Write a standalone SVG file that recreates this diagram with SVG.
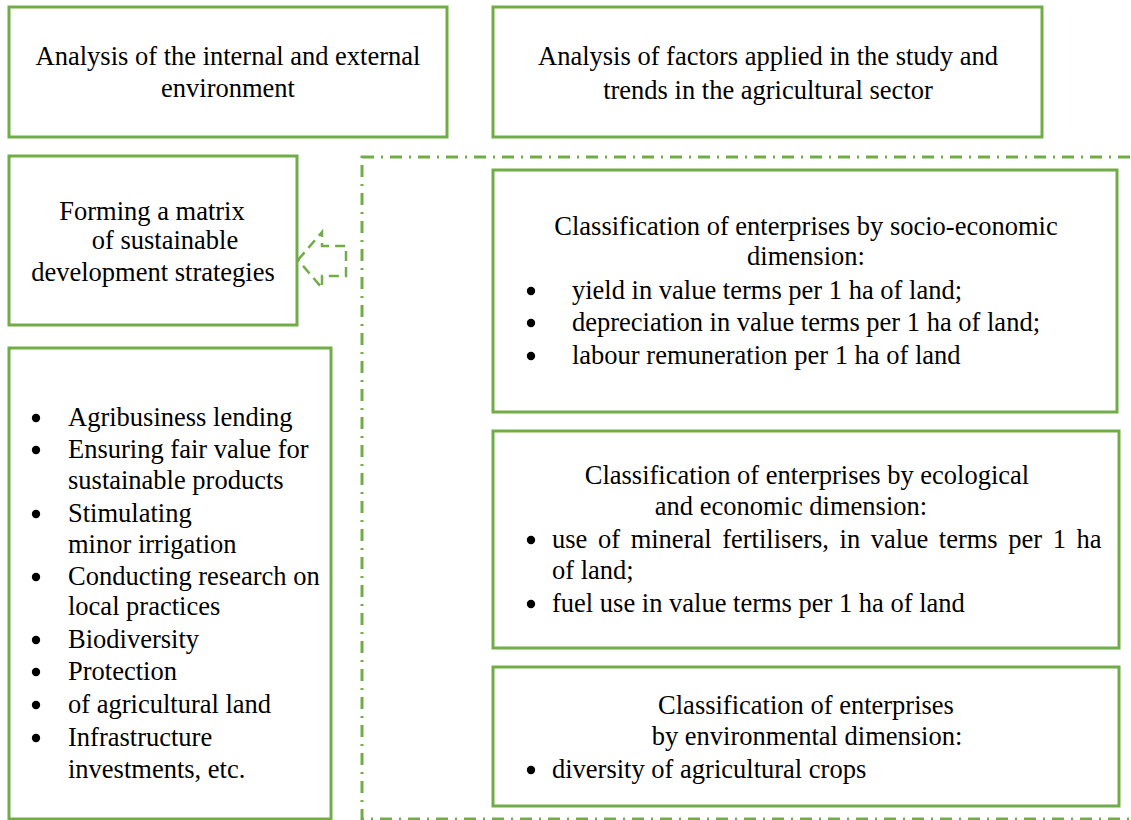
<svg xmlns="http://www.w3.org/2000/svg" width="1131" height="820" viewBox="0 0 1131 820">
<style>
.box{fill:#fff;stroke:#70AD47;stroke-width:3}
.t{font-size:26.5px;fill:#000}
.c{text-anchor:middle}
.b{fill:#000}
.frame{fill:none;stroke:#70AD47;stroke-width:3;stroke-dasharray:12 7 2 7}
.arrow{fill:none;stroke:#70AD47;stroke-width:2.5;stroke-dasharray:10 6}
</style>
<rect width="1131" height="820" fill="#fff"/>
<g id="frame"><rect class="frame" x="362" y="157" width="790" height="662"/></g>
<g font-family="Liberation Serif, DejaVu Serif, serif">
<g id="n1"><rect class="box" x="9" y="7" width="438" height="130"/>
<text class="t c" x="228" y="65">Analysis of the internal and external</text>
<text class="t c" x="228" y="97">environment</text></g>
<g id="n2"><rect class="box" x="493" y="7" width="549" height="130"/>
<text class="t c" x="768" y="65">Analysis of factors applied in the study and</text>
<text class="t c" x="768" y="99">trends in the agricultural sector</text></g>
<g id="n3"><rect class="box" x="9" y="156" width="288" height="169"/>
<text class="t c" x="152" y="220">Forming a matrix</text>
<text class="t c" x="165" y="249">of sustainable</text>
<text class="t c" x="153" y="281">development strategies</text></g>
<g id="n4"><rect class="box" x="9" y="348" width="322" height="471"/>
<g class="b"><circle cx="36" cy="418" r="4.2"/><circle cx="36" cy="450" r="4.2"/><circle cx="36" cy="514" r="4.2"/><circle cx="36" cy="577" r="4.2"/><circle cx="36" cy="640" r="4.2"/><circle cx="36" cy="672" r="4.2"/><circle cx="36" cy="705" r="4.2"/><circle cx="36" cy="738" r="4.2"/></g>
<text class="t" x="68" y="426">Agribusiness lending</text>
<text class="t" x="68" y="458">Ensuring fair value for</text>
<text class="t" x="68" y="489">sustainable products</text>
<text class="t" x="68" y="522">Stimulating</text>
<text class="t" x="68" y="553">minor irrigation</text>
<text class="t" x="68" y="585">Conducting research on</text>
<text class="t" x="68" y="615">local practices</text>
<text class="t" x="68" y="648">Biodiversity</text>
<text class="t" x="68" y="680">Protection</text>
<text class="t" x="68" y="713">of agricultural land</text>
<text class="t" x="68" y="746">Infrastructure</text>
<text class="t" x="68" y="778">investments, etc.</text></g>
<g id="n5"><rect class="box" x="493" y="170" width="624" height="242"/>
<text class="t c" x="806" y="235">Classification of enterprises by socio-economic</text>
<text class="t c" x="806" y="265">dimension:</text>
<g class="b"><circle cx="531" cy="291" r="4.2"/><circle cx="531" cy="323" r="4.2"/><circle cx="531" cy="356" r="4.2"/></g>
<text class="t" x="572" y="299">yield in value terms per 1 ha of land;</text>
<text class="t" x="572" y="331">depreciation in value terms per 1 ha of land;</text>
<text class="t" x="572" y="364">labour remuneration per 1 ha of land</text></g>
<g id="n6"><rect class="box" x="493" y="431" width="626" height="217"/>
<text class="t c" x="807" y="484">Classification of enterprises by ecological</text>
<text class="t c" x="791" y="515">and economic dimension:</text>
<g class="b"><circle cx="531" cy="540" r="4.2"/><circle cx="531" cy="604" r="4.2"/></g>
<text class="t" x="552" y="548" word-spacing="4">use of mineral fertilisers, in value terms per 1 ha</text>
<text class="t" x="552" y="579">of land;</text>
<text class="t" x="552" y="612">fuel use in value terms per 1 ha of land</text></g>
<g id="n7"><rect class="box" x="493" y="667" width="626" height="139"/>
<text class="t c" x="806" y="714">Classification of enterprises</text>
<text class="t c" x="807" y="745">by environmental dimension:</text>
<circle class="b" cx="531" cy="770" r="4.2"/>
<text class="t" x="552" y="778">diversity of agricultural crops</text></g>
</g>
<g id="connectors"><polygon class="arrow" points="298,260 322,232 322,246 346,246 346,276 322,276 322,288"/></g>
</svg>
